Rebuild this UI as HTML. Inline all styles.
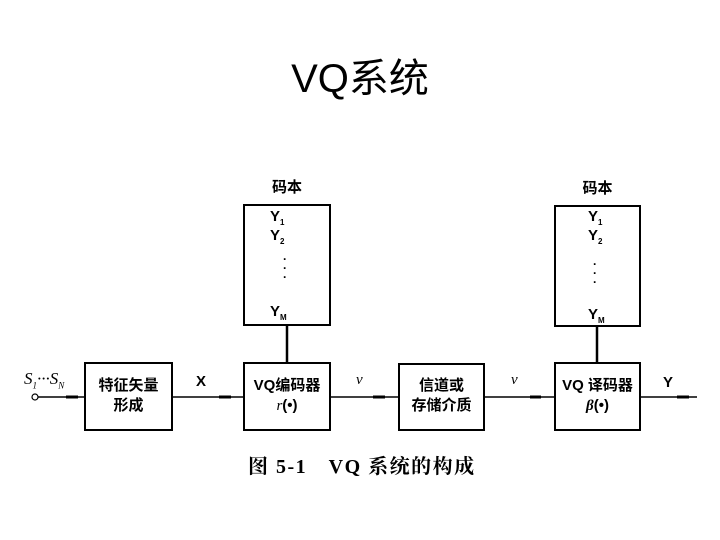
<!DOCTYPE html>
<html><head><meta charset="utf-8"><style>
body{margin:0;background:#fff;}
.t{position:absolute;font-family:"Liberation Serif","Noto Serif CJK SC",serif;color:#000;white-space:nowrap}
.b{position:absolute;border:2px solid #000;box-sizing:border-box}
.c{font-family:"Liberation Sans","Noto Sans CJK SC",sans-serif;font-weight:bold;font-size:15px;text-align:center;line-height:20px}
</style></head><body>
<div style="position:relative;width:720px;height:540px;overflow:hidden">
<div class="t" style="left:0;width:720px;top:46px;text-align:center;font-family:'Liberation Sans','Noto Sans CJK SC',sans-serif;font-size:40px">VQ系统</div>
<svg width="720" height="540" style="position:absolute;left:0;top:0">
<g stroke="#000" stroke-width="1.5" fill="none">
<line x1="38" y1="397" x2="84" y2="397"/>
<line x1="173" y1="397" x2="243" y2="397"/>
<line x1="331" y1="397" x2="398" y2="397"/>
<line x1="485" y1="397" x2="554" y2="397"/>
<line x1="641" y1="397" x2="697" y2="397"/>
<line x1="287" y1="326" x2="287" y2="362" stroke-width="2.5"/>
<line x1="597" y1="327" x2="597" y2="362" stroke-width="2.5"/>
</g>
<circle cx="35" cy="397" r="3" fill="#fff" stroke="#000" stroke-width="1.2"/>
<g stroke="#000" stroke-width="3">
<line x1="66" y1="397" x2="78" y2="397"/><line x1="219" y1="397" x2="231" y2="397"/>
<line x1="373" y1="397" x2="385" y2="397"/><line x1="530" y1="397" x2="541" y2="397"/>
<line x1="677" y1="397" x2="689" y2="397"/>
</g>
</svg>
<div class="b" style="left:243px;top:204px;width:88px;height:122px"></div>
<div class="b" style="left:554px;top:205px;width:87px;height:122px"></div>
<div class="b c" style="left:84px;top:362px;width:89px;height:69px;padding-top:12px">特征矢量<br>形成</div>
<div class="b c" style="left:243px;top:362px;width:88px;height:69px;padding-top:12px">VQ编码器<br><i style="font-family:'Liberation Serif',serif;font-weight:normal">r</i>(•)</div>
<div class="b c" style="left:398px;top:363px;width:87px;height:68px;padding-top:11px">信道或<br>存储介质</div>
<div class="b c" style="left:554px;top:362px;width:87px;height:69px;padding-top:12px">VQ 译码器<br><i style="font-family:'Liberation Serif',serif">β</i>(•)</div>
<div class="t c" style="left:243px;top:178px;width:88px">码本</div>
<div class="t c" style="left:554px;top:179px;width:87px">码本</div>
<div class="t c" style="left:270px;top:207px">Y<sub style="font-size:8px">1</sub></div>
<div class="t c" style="left:270px;top:226px">Y<sub style="font-size:8px">2</sub></div>
<div class="t c" style="left:283px;top:255px;line-height:9px;font-size:12px">·<br>·<br>·</div>
<div class="t c" style="left:270px;top:302px">Y<sub style="font-size:8px">M</sub></div>
<div class="t c" style="left:588px;top:207px">Y<sub style="font-size:8px">1</sub></div>
<div class="t c" style="left:588px;top:226px">Y<sub style="font-size:8px">2</sub></div>
<div class="t c" style="left:593px;top:260px;line-height:9px;font-size:12px">·<br>·<br>·</div>
<div class="t c" style="left:588px;top:305px">Y<sub style="font-size:8px">M</sub></div>
<div class="t" style="left:24px;top:369px;font-size:17px;font-style:italic">S<sub style="font-size:9px">1</sub>···S<sub style="font-size:9px">N</sub></div>
<div class="t c" style="left:196px;top:372px">X</div>
<div class="t" style="left:356px;top:372px;font-size:15px;font-style:italic">v</div>
<div class="t" style="left:511px;top:372px;font-size:15px;font-style:italic">v</div>
<div class="t c" style="left:663px;top:373px">Y</div>
<div class="t" style="left:248px;top:450px;font-size:20px;font-weight:bold;letter-spacing:1.5px">图 5-1　VQ 系统的构成</div>
</div>
</body></html>
